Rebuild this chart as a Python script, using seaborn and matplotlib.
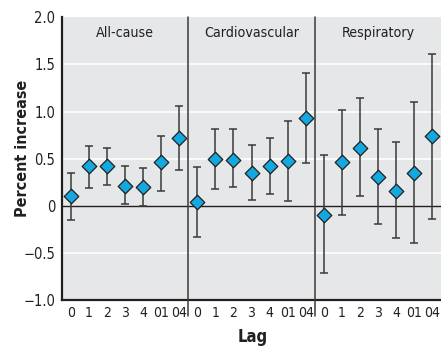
import numpy as np
import pandas as pd
import matplotlib
matplotlib.use('Agg')
import matplotlib.pyplot as plt
import seaborn as sns

# values
causes = ['All-cause', 'Cardiovascular', 'Respiratory']
lags = ['0', '1', '2', '3', '4', '01', '04']

allcause_est = [0.10, 0.42, 0.42, 0.21, 0.20, 0.46, 0.72]
allcause_lo = [-0.15, 0.19, 0.22, 0.02, 0.00, 0.16, 0.38]
allcause_hi = [0.35, 0.64, 0.61, 0.42, 0.40, 0.74, 1.06]

cardio_est = [0.04, 0.50, 0.49, 0.35, 0.42, 0.48, 0.93]
cardio_lo = [-0.33, 0.18, 0.20, 0.06, 0.12, 0.05, 0.45]
cardio_hi = [0.41, 0.82, 0.81, 0.65, 0.72, 0.90, 1.41]

resp_est = [-0.10, 0.46, 0.61, 0.31, 0.16, 0.35, 0.74]
resp_lo = [-0.71, -0.10, 0.10, -0.19, -0.34, -0.40, -0.14]
resp_hi = [0.54, 1.02, 1.14, 0.82, 0.68, 1.10, 1.61]

yticks = [-1.0, -0.5, 0, 0.5, 1.0, 1.5, 2.0]
ytick_labels = ['\u22121.0', '\u22120.5', '0', '0.5', '1.0', '1.5', '2.0']

rows = []
for k, (est, lo, hi) in enumerate([(allcause_est, allcause_lo, allcause_hi),
                                   (cardio_est, cardio_lo, cardio_hi),
                                   (resp_est, resp_lo, resp_hi)]):
    for i, lag in enumerate(lags):
        rows.append({'cause': causes[k], 'lag': lag, 'pos': k * 7 + i,
                     'est': est[i], 'lo': lo[i], 'hi': hi[i]})
df = pd.DataFrame(rows)

sns.set_style('white')
plt.rcParams['font.family'] = ['DejaVu Sans']
plt.rcParams['font.stretch'] = 'condensed'

fig = plt.figure(figsize=(4.41, 3.48), dpi=100)
ax = fig.add_axes([0.1406, 0.138, 0.8594, 0.812])
ax.set_facecolor('#e6e7e8')

for y in [-0.5, 0.5, 1.0, 1.5]:
    ax.axhline(y, color='white', lw=1.2, zorder=0)
ax.axhline(0, color='#231f20', lw=1.0, zorder=1)

ax.errorbar(df['pos'], df['est'],
            yerr=[df['est'] - df['lo'], df['hi'] - df['est']],
            fmt='none', ecolor='#3a3a3a', elinewidth=1.1, capsize=3,
            capthick=1.1, zorder=2)
sns.scatterplot(data=df, x='pos', y='est', marker='D', s=55,
                color='#12a8e0', edgecolor='#231f20', linewidth=0.9,
                ax=ax, zorder=3, legend=False)

for xd in [6.5, 13.5]:
    ax.plot([xd, xd], [-1.17, 2.0], color='#3a3a3a', lw=1.1,
            clip_on=False, zorder=4)

for k, c in enumerate(causes):
    ax.text(k * 7 + 3, 1.83, c, ha='center', va='center', fontsize=10.2,
            color='#231f20')

ax.set_xlim(-0.5, 20.5)
ax.set_ylim(-1.0, 2.0)
ax.set_xticks(df['pos'])
ax.set_xticklabels(lags * 3, fontsize=10, color='#231f20')
ax.set_yticks(yticks)
ax.set_yticklabels(ytick_labels, fontsize=10.5, color='#231f20')
ax.tick_params(axis='x', length=0, pad=4)
ax.tick_params(axis='y', length=0, pad=5)

for s in ['top', 'right']:
    ax.spines[s].set_visible(False)
for s in ['left', 'bottom']:
    ax.spines[s].set_color('#231f20')
    ax.spines[s].set_linewidth(1.6)

ax.set_xlabel('')
ax.set_ylabel('')
fig.text(253 / 441, 1 - 337 / 348, 'Lag', ha='center', va='center',
         fontsize=12, fontweight='bold', color='#231f20')
fig.text(23 / 441, 1 - 148.7 / 348, 'Percent increase', ha='center',
         va='center', rotation=90, fontsize=11.5, fontweight='bold',
         color='#231f20')

fig.savefig('out.png', dpi=100)
